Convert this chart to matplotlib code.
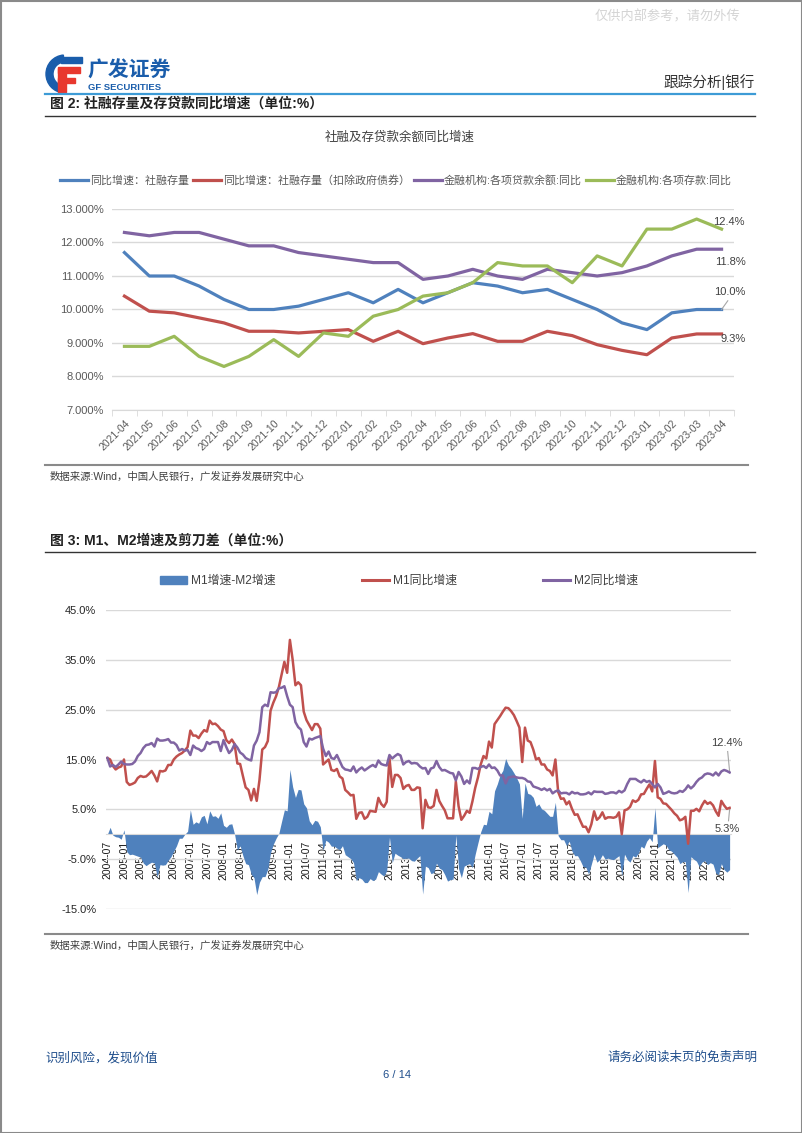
import matplotlib
matplotlib.use('Agg')
import matplotlib.pyplot as plt
import matplotlib.patches as patches
from matplotlib.lines import Line2D
from matplotlib.patches import Patch
import numpy as np

W, H = 802, 1133
plt.rcParams['font.family'] = ['Liberation Sans', 'Noto Sans CJK SC']

# ---- chart 1: 社融及存贷款余额同比增速 (%) ----
months1 = ['2021-04', '2021-05', '2021-06', '2021-07', '2021-08', '2021-09', '2021-10',
           '2021-11', '2021-12', '2022-01', '2022-02', '2022-03', '2022-04', '2022-05',
           '2022-06', '2022-07', '2022-08', '2022-09', '2022-10', '2022-11', '2022-12',
           '2023-01', '2023-02', '2023-03', '2023-04']
tsf = [11.7, 11.0, 11.0, 10.7, 10.3, 10.0, 10.0, 10.1, 10.3, 10.5, 10.2, 10.6, 10.2,
       10.5, 10.8, 10.7, 10.5, 10.6, 10.3, 10.0, 9.6, 9.4, 9.9, 10.0, 10.0]
tsf_ex_gov = [10.4, 9.95, 9.9, 9.75, 9.6, 9.35, 9.35, 9.3, 9.35, 9.4, 9.05, 9.35, 8.98,
              9.15, 9.28, 9.05, 9.05, 9.35, 9.22, 8.95, 8.78, 8.65, 9.15, 9.27, 9.27]
loans = [12.3, 12.2, 12.3, 12.3, 12.1, 11.9, 11.9, 11.7, 11.6, 11.5, 11.4, 11.4, 10.9,
         11.0, 11.2, 11.0, 10.9, 11.2, 11.1, 11.0, 11.1, 11.3, 11.6, 11.8, 11.8]
deposits = [8.9, 8.9, 9.2, 8.6, 8.3, 8.6, 9.1, 8.6, 9.3, 9.2, 9.8, 10.0, 10.4,
            10.5, 10.8, 11.4, 11.3, 11.3, 10.8, 11.6, 11.3, 12.4, 12.4, 12.7, 12.4]
names1 = ['同比增速：社融存量', '同比增速：社融存量（扣除政府债券）',
          '金融机构:各项贷款余额:同比', '金融机构:各项存款:同比']

# ---- chart 2: M1, M2 同比增速 (%), monthly 2004-07 .. 2023-04 ----
m1 = [15.3, 15.0, 13.7, 13.0, 13.4, 13.6,
      15.0, 10.5, 9.9, 10.1, 10.4, 11.3, 11.7, 11.5, 11.6, 12.1, 12.7, 11.8,
      10.6, 12.7, 12.6, 12.8, 13.9, 13.9, 15.0, 15.6, 16.0, 16.3, 16.8, 17.5,
      20.8, 19.8, 19.8, 19.3, 20.2, 20.9, 20.6, 22.8, 22.1, 22.2, 21.7, 21.0,
      20.7, 18.9, 18.3, 19.0, 18.1, 14.2, 14.1, 11.7, 9.4, 8.9, 6.8, 9.1,
      6.7, 10.9, 17.0, 17.5, 18.7, 24.8, 26.4, 27.7, 29.5, 32.0, 34.6, 32.4,
      39.0, 35.0, 29.9, 30.5, 29.9, 24.6, 22.9, 21.9, 20.9, 22.1, 22.1, 21.2,
      14.0, 14.5, 15.0, 12.9, 12.7, 13.1, 11.6, 11.2, 8.9, 8.4, 7.8, 7.9,
      3.1, 4.3, 4.4, 3.1, 3.5, 4.7, 4.6, 4.5, 7.3, 6.1, 5.5, 6.5,
      15.3, 9.5, 11.9, 11.9, 11.3, 9.1, 9.7, 9.9, 8.9, 8.9, 9.4, 9.3,
      1.2, 6.9, 5.4, 5.3, 5.7, 8.9, 6.7, 5.7, 4.8, 3.2, 3.2, 3.2,
      10.6, 5.6, 2.9, 3.7, 4.7, 4.3, 6.6, 9.3, 11.4, 14.0, 15.7, 15.2,
      18.6, 17.4, 22.1, 22.9, 23.7, 24.6, 25.4, 25.3, 24.7, 23.9, 22.7, 21.4,
      14.5, 21.4, 18.8, 18.5, 17.0, 15.0, 15.3, 14.0, 14.0, 13.0, 12.7, 11.8,
      15.0, 8.5, 7.1, 7.2, 6.0, 6.6, 5.1, 3.9, 4.0, 2.7, 1.5, 1.5,
      0.4, 2.0, 4.6, 2.9, 3.4, 4.4, 3.1, 3.4, 3.4, 3.3, 3.5, 4.4,
      0.0, 4.8, 5.0, 5.5, 6.8, 6.5, 6.9, 8.0, 8.1, 9.1, 10.0, 8.6,
      14.7, 7.4, 7.1, 6.2, 6.1, 5.5, 4.9, 4.2, 3.7, 2.8, 3.0, 3.5,
      -1.9, 4.7, 4.7, 5.1, 4.6, 5.8, 6.7, 6.1, 6.4, 5.8, 4.6, 3.7,
      6.7, 5.8, 5.1, 5.3]
m2 = [15.3, 13.6, 13.9, 13.5, 14.0, 14.6,
      14.1, 14.0, 14.0, 14.1, 14.6, 15.7, 16.3, 17.3, 17.9, 18.0, 18.3, 17.6,
      19.2, 18.8, 18.8, 18.9, 19.1, 18.4, 18.4, 17.9, 16.8, 17.1, 16.8, 16.9,
      15.9, 17.8, 17.3, 17.1, 16.7, 17.1, 18.5, 18.1, 18.5, 18.5, 18.5, 16.7,
      18.9, 17.5, 16.3, 16.9, 18.1, 17.4, 16.4, 16.0, 15.3, 15.0, 14.8, 17.8,
      18.8, 20.5, 25.5, 26.0, 25.7, 28.5, 28.4, 28.5, 29.3, 29.4, 29.7, 27.7,
      26.0, 25.5, 22.5, 21.5, 21.0, 18.5, 17.6, 19.2, 19.0, 19.3, 19.5, 19.7,
      17.2, 15.7, 16.6, 15.3, 15.1, 15.9, 14.7, 13.5, 13.0, 12.9, 12.7, 13.6,
      12.4, 13.0, 13.4, 12.8, 13.2, 13.6, 13.9, 13.5, 14.8, 14.1, 13.9, 13.8,
      15.9, 15.2, 15.7, 16.1, 15.8, 14.0, 14.5, 14.7, 14.2, 14.3, 14.2, 13.6,
      13.2, 13.3, 12.1, 13.2, 13.4, 14.7, 13.5, 12.8, 12.9, 12.6, 12.3, 12.2,
      10.8, 12.5, 11.6, 10.1, 10.8, 10.2, 13.3, 13.3, 13.1, 13.5, 13.7, 13.3,
      14.0, 13.3, 13.4, 12.8, 11.8, 11.8, 10.2, 11.4, 11.5, 11.6, 11.4, 11.3,
      11.3, 11.1, 10.6, 10.5, 9.6, 9.4, 9.2, 8.9, 9.2, 8.8, 9.1, 8.2,
      8.6, 8.8, 8.2, 8.3, 8.3, 8.0, 8.5, 8.2, 8.3, 8.0, 8.0, 8.1,
      8.4, 8.0, 8.6, 8.5, 8.5, 8.5, 8.1, 8.2, 8.4, 8.4, 8.2, 8.7,
      8.4, 8.8, 10.1, 11.1, 11.1, 11.1, 10.7, 10.4, 10.9, 10.5, 10.7, 10.1,
      9.4, 10.1, 9.4, 8.1, 8.3, 8.6, 8.3, 8.2, 8.3, 8.7, 8.5, 9.0,
      9.8, 9.2, 9.7, 10.5, 11.1, 11.4, 12.0, 12.2, 12.1, 11.8, 12.4, 11.8,
      12.6, 12.9, 12.7, 12.4]
tick_labels2 = [f'{y}-{m:02d}' for y in range(2004, 2024) for m in (1, 7)][1:-1]
tick_labels2[13] = '2011-04'  # as printed on the source chart
names2 = ['M1增速-M2增速', 'M1同比增速', 'M2同比增速']

BLUE, RED, PURPLE, GREEN = '#4F81BD', '#C0504D', '#8064A2', '#9BBB59'
GRID = '#D9D9D9'
TICK = '#595959'

fig = plt.figure(figsize=(W / 100, H / 100), dpi=100)

# page overlay in pixel coordinates (y down)
page = fig.add_axes([0, 0, 1, 1], zorder=0)
page.set_xlim(0, W)
page.set_ylim(H, 0)
page.axis('off')


def px_axes(x0, y0, x1, y1):
    return fig.add_axes([x0 / W, 1 - y1 / H, (x1 - x0) / W, (y1 - y0) / H], zorder=2)


# border and header
page.add_patch(patches.Rectangle((0.5, 0.5), W - 1, H - 1, fill=False, ec='#8a8a8a', lw=1.5))
page.text(740, 17, '仅供内部参考，请勿外传', ha='right', va='center', fontsize=9.5, color='#d4d4d4')

# logo
page.add_patch(patches.Wedge((65, 74), 19, 95, 265, width=7, color='#1A5DAB'))
page.add_patch(patches.Rectangle((61, 57), 21, 6, color='#1A5DAB'))
page.add_patch(patches.Rectangle((58, 68), 8, 24, color='#E8382E'))
page.add_patch(patches.Rectangle((58, 67), 22, 6, color='#E8382E'))
page.add_patch(patches.Rectangle((58, 78), 17, 5, color='#E8382E'))
page.text(87, 71, '广发证券', ha='left', va='center', fontsize=15, fontweight='bold', color='#1A5DAB')
page.text(88, 87, 'GF SECURITIES', ha='left', va='center', fontsize=6.8, fontweight='bold', color='#1A5DAB')
page.text(755, 82, '跟踪分析|银行', ha='right', va='center', fontsize=10.5, color='#333333')
page.plot([45, 755], [93.5, 93.5], color='#3D9BD6', lw=1.6)

# figure 2 heading
page.text(50, 104, '图 2: 社融存量及存贷款同比增速（单位:%）', ha='left', va='center',
          fontsize=10, fontweight='bold', color='#222222')
page.plot([45, 755], [116, 116], color='#333333', lw=1)
page.text(400, 138, '社融及存贷款余额同比增速', ha='center', va='center', fontsize=9, color='#404040')

# chart 1
ax1 = px_axes(112, 209, 734, 410)
x1 = np.arange(len(months1))
series1 = [tsf, tsf_ex_gov, loans, deposits]
colors1 = [BLUE, RED, PURPLE, GREEN]
for vals, c, n in zip(series1, colors1, names1):
    ax1.plot(x1, vals, color=c, lw=2.3, label=n, solid_joinstyle='round')
ax1.set_xlim(-0.5, len(months1) - 0.5)
ax1.set_ylim(7, 13)
ax1.set_yticks(np.arange(7, 13.5, 1))
ax1.yaxis.set_major_formatter(lambda v, p: f'{v:.3f}%')
ax1.grid(axis='y', color=GRID, lw=1)
ax1.set_axisbelow(True)
for s in ['top', 'right', 'left']:
    ax1.spines[s].set_visible(False)
ax1.spines['bottom'].set_color(GRID)
ax1.tick_params(axis='y', length=0, labelsize=8, labelcolor=TICK, pad=6)
ax1.set_xticks(x1)
ax1.set_xticklabels(months1, rotation=45, ha='right', rotation_mode='anchor', fontsize=7.5, color=TICK)
ax1.tick_params(axis='x', length=0, pad=6)
ax1.set_xticks(np.arange(-0.5, len(months1)), minor=True)
ax1.tick_params(axis='x', which='minor', length=4, color=GRID)
ax1.legend(loc='center', bbox_to_anchor=(396 / W, 1 - 180 / H), bbox_transform=fig.transFigure,
           ncol=4, frameon=False, fontsize=7.9, labelcolor=TICK, handlelength=2.5,
           handletextpad=0.2, columnspacing=0.4)

lab_kw = dict(fontsize=8, color='#404040', ha='center', va='center', clip_on=False)
ax1.text(24.3, 12.61, '12.4%', **lab_kw)
ax1.text(24.35, 11.42, '11.8%', **lab_kw)
ax1.text(24.35, 10.52, '10.0%', **lab_kw)
ax1.plot([24.0, 24.25], [10.0, 10.26], color='#a6a6a6', lw=0.8, clip_on=False)
ax1.text(24.45, 9.12, '9.3%', **lab_kw)

page.plot([45, 748], [465, 465], color='#8a8a8a', lw=1.5)
page.text(50, 477, '数据来源:Wind，中国人民银行，广发证券发展研究中心', ha='left', va='center',
          fontsize=7.5, color='#404040')

# figure 3 heading
page.text(50, 541, '图 3: M1、M2增速及剪刀差（单位:%）', ha='left', va='center',
          fontsize=10, fontweight='bold', color='#222222')
page.plot([45, 755], [552, 552], color='#333333', lw=1)

# chart 2
ax2 = px_axes(106, 610, 731, 909)
x2 = np.arange(len(m1))
spread = np.array(m1) - np.array(m2)
ax2.fill_between(x2, 0, spread, color=BLUE, lw=0, zorder=1)
ax2.plot(x2, m1, color=RED, lw=1.8, zorder=3)
ax2.plot(x2, m2, color=PURPLE, lw=1.8, zorder=3)
ax2.set_xlim(-0.5, len(m1) - 0.5)
ax2.set_ylim(-15, 45)
ax2.set_yticks(np.arange(-15, 46, 10))
ax2.yaxis.set_major_formatter(lambda v, p: f'{v:.1f}%')
ax2.grid(axis='y', color=GRID, lw=1)
ax2.set_axisbelow(True)
for s in ['top', 'right', 'left']:
    ax2.spines[s].set_visible(False)
ax2.spines['bottom'].set_position(('data', 0))
ax2.spines['bottom'].set_color(GRID)
ax2.tick_params(axis='y', length=0, labelsize=8, labelcolor='#262626', pad=7)
ax2.set_xticks(np.arange(0, len(m1), 6))
ax2.set_xticklabels(tick_labels2, rotation=90, fontsize=7.5, color='#1a1a1a')
ax2.tick_params(axis='x', length=0, pad=5)
handles2 = [Patch(color=BLUE), Line2D([], [], color=RED, lw=2.2), Line2D([], [], color=PURPLE, lw=2.2)]
ax2.legend(handles2, names2, loc='center', bbox_to_anchor=(399 / W, 1 - 581 / H),
           bbox_transform=fig.transFigure, ncol=3, frameon=False, fontsize=8.6, labelcolor='#404040',
           handlelength=2.3, handleheight=0.6, handletextpad=0.3, columnspacing=7.2)

ax2.text(224.1, 18.3, '12.4%', **lab_kw)
ax2.plot([224.3, 225.0], [16.6, 12.6], color='#a6a6a6', lw=0.8, clip_on=False)
ax2.text(224.3, 1.0, '5.3%', **lab_kw)
ax2.plot([224.6, 225.0], [2.7, 5.0], color='#a6a6a6', lw=0.8, clip_on=False)

page.plot([45, 748], [934, 934], color='#8a8a8a', lw=1.5)
page.text(50, 946, '数据来源:Wind，中国人民银行，广发证券发展研究中心', ha='left', va='center',
          fontsize=7.5, color='#404040')

# footer
FOOT = '#1F4E8C'
page.text(45, 1058, '识别风险，发现价值', ha='left', va='center', fontsize=9, color=FOOT)
page.text(757, 1058, '请务必阅读末页的免责声明', ha='right', va='center', fontsize=9, color=FOOT)
page.text(397, 1075, '6 / 14', ha='center', va='center', fontsize=8, color=FOOT)

fig.savefig('out.png', dpi=100, facecolor='white')
